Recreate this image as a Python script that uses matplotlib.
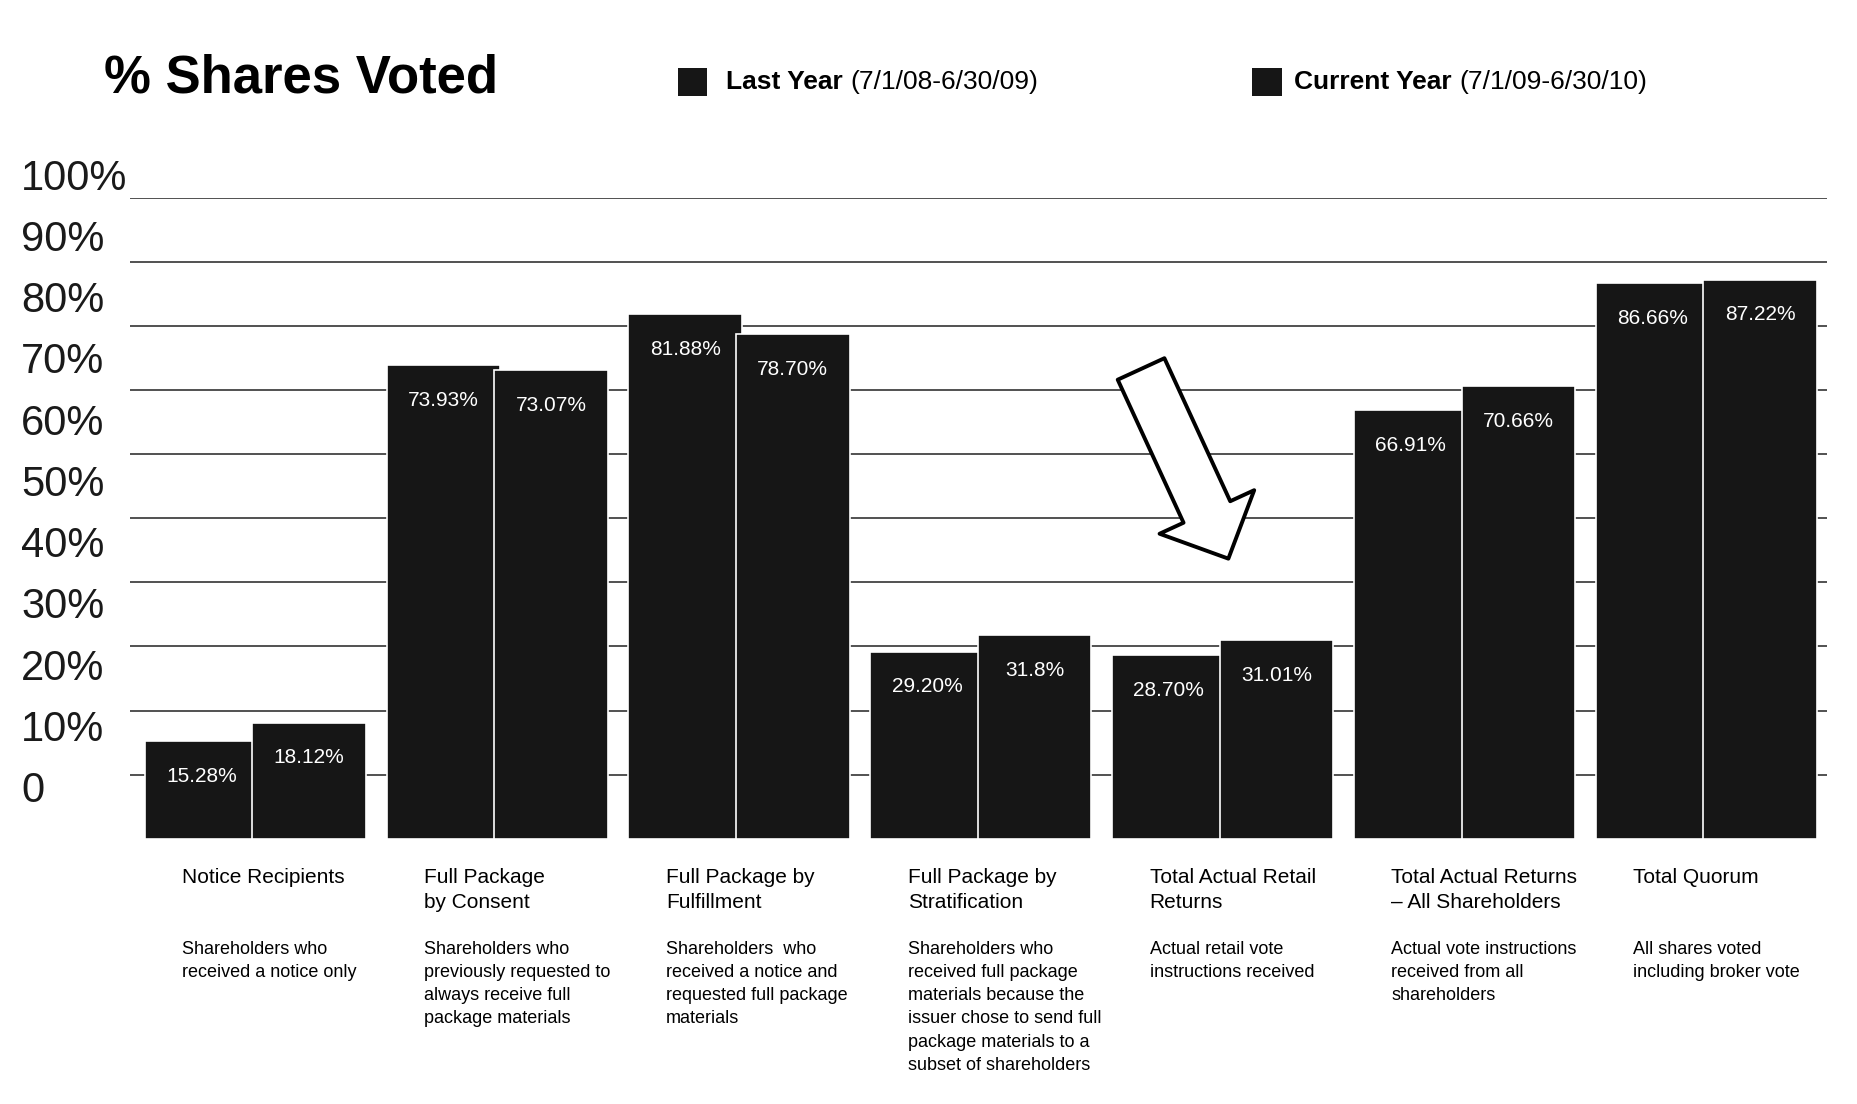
import matplotlib.pyplot as plt
import numpy as np
from matplotlib.patches import Rectangle, FancyArrowPatch
import matplotlib.transforms as mtransforms

plt.rcParams['font.family'] = ['Liberation Sans', 'DejaVu Sans']

# data
categories = ["Notice Recipients", "Full Package\nby Consent", "Full Package by\nFulfillment",
              "Full Package by\nStratification", "Total Actual Retail\nReturns",
              "Total Actual Returns\n\u2013 All Shareholders", "Total Quorum"]
descriptions = ["Shareholders who\nreceived a notice only",
                "Shareholders who\npreviously requested to\nalways receive full\npackage materials",
                "Shareholders  who\nreceived a notice and\nrequested full package\nmaterials",
                "Shareholders who\nreceived full package\nmaterials because the\nissuer chose to send full\npackage materials to a\nsubset of shareholders",
                "Actual retail vote\ninstructions received",
                "Actual vote instructions\nreceived from all\nshareholders",
                "All shares voted\nincluding broker vote"]
last_year = [15.28, 73.93, 81.88, 29.20, 28.70, 66.91, 86.66]
current_year = [18.12, 73.07, 78.70, 31.8, 31.01, 70.66, 87.22]
last_year_labels = ["15.28%", "73.93%", "81.88%", "29.20%", "28.70%", "66.91%", "86.66%"]
current_year_labels = ["18.12%", "73.07%", "78.70%", "31.8%", "31.01%", "70.66%", "87.22%"]
ytick_values = [0, 10, 20, 30, 40, 50, 60, 70, 80, 90, 100]
ytick_labels = ["0", "10%", "20%", "30%", "40%", "50%", "60%", "70%", "80%", "90%", "100%"]

bar_color = '#161616'

fig = plt.figure(figsize=(18.58, 11.04), dpi=100)
ax = fig.add_axes([0.0702, 0.2403, 0.9132, 0.5805])

x = np.arange(len(categories))
w = 0.47
ax.bar(x - 0.22, last_year, w, color=bar_color, edgecolor='white', linewidth=1.2, zorder=2)
ax.bar(x + 0.225, current_year, w, color=bar_color, edgecolor='white', linewidth=1.2, zorder=3)

for i in range(len(categories)):
    ax.text(x[i] - 0.22, last_year[i] - 5.5, last_year_labels[i], color='white',
            fontsize=15, ha='center', va='center', zorder=4)
    ax.text(x[i] + 0.225, current_year[i] - 5.5, current_year_labels[i], color='white',
            fontsize=15, ha='center', va='center', zorder=4)

# gridlines
for v in range(10, 101, 10):
    ax.axhline(v, color='#222222', linewidth=1.1, zorder=1)

ax.set_xlim(-0.514, 6.502)
ax.set_ylim(0, 100)
ax.set_xticks([])
ax.set_yticks([])
for s in ax.spines.values():
    s.set_visible(False)

# arrow
arr = FancyArrowPatch((3.665, 73.3), (4.026, 43.7),
                      arrowstyle='simple,head_length=37,head_width=75,tail_width=37',
                      mutation_scale=1, shrinkA=0, shrinkB=0,
                      facecolor='white', edgecolor='black', linewidth=2.8, zorder=5)
ax.add_patch(arr)

# category labels under the bars
trans = mtransforms.blended_transform_factory(ax.transData, fig.transFigure)
for i in range(len(categories)):
    ax.text(x[i] - 0.3, 0.214, categories[i], transform=trans, fontsize=15,
            ha='left', va='top', linespacing=1.45)
    ax.text(x[i] - 0.3, 0.148, descriptions[i], transform=trans, fontsize=13,
            ha='left', va='top', linespacing=1.48)

# y labels (sit a bit above the gridlines like in the original)
lab_ax = fig.add_axes([0.0115, 0.2835, 0.06, 0.5547])
lab_ax.set_xlim(0, 1)
lab_ax.set_ylim(0, 100)
lab_ax.axis('off')
for v, t in zip(ytick_values, ytick_labels):
    lab_ax.text(0, v, t, fontsize=30, ha='left', va='center', color='#1a1a1a')

# title + legend
fig.text(0.0561, 0.929, "% Shares Voted", fontsize=38, fontweight='bold', ha='left', va='center')

fig.add_artist(Rectangle((0.3648, 0.913), 0.0159, 0.0258, transform=fig.transFigure,
                         facecolor=bar_color, edgecolor='none'))
fig.add_artist(Rectangle((0.6741, 0.913), 0.0159, 0.0258, transform=fig.transFigure,
                         facecolor=bar_color, edgecolor='none'))
t1 = fig.text(0.391, 0.926, "Last Year ", fontsize=19, fontweight='bold', ha='left', va='center')
t2 = fig.text(0.6964, 0.926, "Current Year ", fontsize=19, fontweight='bold', ha='left', va='center')

ax.annotate("(7/1/08-6/30/09)", xy=(1, 0), xycoords=t1, fontsize=19, ha='left', va='bottom')
ax.annotate("(7/1/09-6/30/10)", xy=(1, 0), xycoords=t2, fontsize=19, ha='left', va='bottom')

fig.savefig('out.png', dpi=100, facecolor='white')
